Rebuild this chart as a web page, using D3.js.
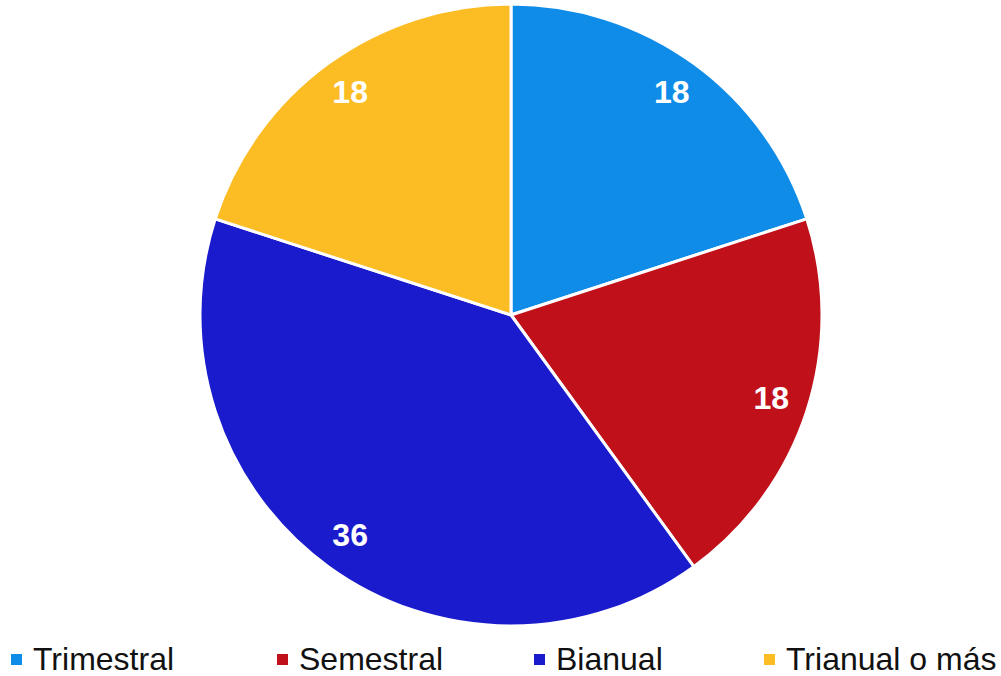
<!DOCTYPE html>
<html>
<head>
<meta charset="utf-8">
<script src="https://cdn.jsdelivr.net/npm/d3@7"></script>
<style>
  body { margin: 0; background: #fff; }
  svg { display: block; font-family: "Liberation Sans", Arial, sans-serif; }
</style>
</head>
<body>
<svg id="chart" width="1001" height="676"></svg>
<script>
var categories = ["Trimestral", "Semestral", "Bianual", "Trianual o más"];
var values = [18, 18, 36, 18];
var colors = ["#0f8ce8", "#c0111b", "#1a1bcc", "#fbbc24"];

var svg = d3.select("#chart");
var cx = 511, cy = 315, r = 311;

var data = categories.map(function(c, i){ return {name: c, value: values[i], color: colors[i]}; });

var pie = d3.pie().sort(null).value(function(d){ return d.value; });
var arc = d3.arc().innerRadius(0).outerRadius(r);
var labelArc = d3.arc().innerRadius(r * 0.88).outerRadius(r * 0.88);

var g = svg.append("g").attr("transform", "translate(" + cx + "," + cy + ")");
var arcs = pie(data);

g.selectAll("path")
  .data(arcs)
  .enter().append("path")
  .attr("d", arc)
  .attr("fill", function(d){ return d.data.color; })
  .attr("stroke", "#fff")
  .attr("stroke-width", 3)
  .attr("stroke-linejoin", "round");

g.selectAll("text.lbl")
  .data(arcs)
  .enter().append("text")
  .attr("class", "lbl")
  .attr("transform", function(d){ return "translate(" + labelArc.centroid(d) + ")"; })
  .attr("text-anchor", "middle")
  .attr("dy", "0.3em")
  .attr("fill", "#fff")
  .attr("font-weight", "bold")
  .attr("font-size", 32)
  .text(function(d){ return d.data.value; });

// legend
var legendX = [11, 277, 534, 764];
var legend = svg.append("g");
var items = legend.selectAll("g")
  .data(data)
  .enter().append("g")
  .attr("transform", function(d, i){ return "translate(" + legendX[i] + ",654)"; });
items.append("rect")
  .attr("width", 11).attr("height", 11)
  .attr("fill", function(d){ return d.color; });
items.append("text")
  .attr("x", 22).attr("y", 16)
  .attr("font-size", 32)
  .attr("fill", "#111")
  .text(function(d){ return d.name; });
</script>
</body>
</html>
